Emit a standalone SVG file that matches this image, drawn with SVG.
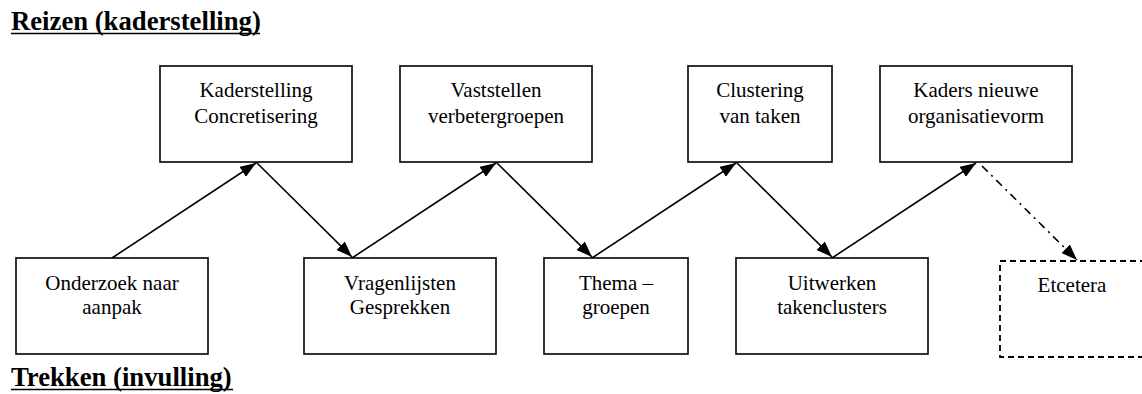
<svg xmlns="http://www.w3.org/2000/svg" width="1142" height="394" viewBox="0 0 1142 394">
  <defs>
    <style>
      .box { fill: #ffffff; stroke: #000000; stroke-width: 1.6; }
      .box-dashed { fill: #ffffff; stroke: #000000; stroke-width: 1.8; stroke-dasharray: 6 4; }
      .label { font-family: 'Liberation Serif', 'DejaVu Serif', serif; font-size: 21px; fill: #000000; text-anchor: middle; }
      .heading { font-family: 'Liberation Serif', 'DejaVu Serif', serif; font-size: 26.7px; font-weight: bold; fill: #000000; }
      .rule { stroke: #000000; stroke-width: 1.6; }
      .link { fill: none; stroke: #000000; stroke-width: 1.6; marker-end: url(#arrow); }
      .link-dashdot { fill: none; stroke: #000000; stroke-width: 1.6; stroke-dasharray: 8 5 2 5; marker-end: url(#arrow); }
    </style>
    <marker id="arrow" viewBox="0 0 16 12" refX="16" refY="6" markerWidth="16" markerHeight="12" markerUnits="userSpaceOnUse" orient="auto">
      <path d="M0,0 L16,6 L0,12 Z" fill="#000000"/>
    </marker>
  </defs>

  <rect width="1142" height="394" fill="#ffffff"/>

  <!-- section headings, underlined with plain rules -->
  <g id="heading-reizen">
    <text class="heading" x="11" y="30">Reizen (kaderstelling)</text>
    <line class="rule" x1="11" y1="33.5" x2="260" y2="33.5"/>
  </g>
  <g id="heading-trekken">
    <text class="heading" x="11" y="386">Trekken (invulling)</text>
    <line class="rule" x1="11" y1="389.5" x2="233" y2="389.5"/>
  </g>

  <!-- connectors -->
  <g id="connectors">
    <line class="link" x1="112" y1="258" x2="256" y2="163"/>
    <line class="link" x1="256" y1="162" x2="352" y2="257"/>
    <line class="link" x1="352" y1="258" x2="496" y2="163"/>
    <line class="link" x1="496" y1="162" x2="592" y2="257"/>
    <line class="link" x1="592" y1="258" x2="736" y2="163"/>
    <line class="link" x1="736" y1="162" x2="832" y2="257"/>
    <line class="link" x1="832" y1="258" x2="976" y2="163"/>
    <line class="link-dashdot" x1="982" y1="166" x2="1077" y2="260"/>
  </g>

  <!-- upper row -->
  <g id="kaderstelling">
    <rect class="box" x="160" y="66" width="192" height="96"/>
    <text class="label" x="256" y="97">Kaderstelling</text>
    <text class="label" x="256" y="123">Concretisering</text>
  </g>
  <g id="vaststellen">
    <rect class="box" x="400" y="66" width="192" height="96"/>
    <text class="label" x="496" y="97">Vaststellen</text>
    <text class="label" x="496" y="123">verbetergroepen</text>
  </g>
  <g id="clustering">
    <rect class="box" x="688" y="66" width="144" height="96"/>
    <text class="label" x="760" y="97">Clustering</text>
    <text class="label" x="760" y="123">van taken</text>
  </g>
  <g id="kaders">
    <rect class="box" x="880" y="66" width="192" height="96"/>
    <text class="label" x="976" y="97">Kaders nieuwe</text>
    <text class="label" x="976" y="123">organisatievorm</text>
  </g>

  <!-- lower row -->
  <g id="onderzoek">
    <rect class="box" x="16" y="258" width="192" height="96"/>
    <text class="label" x="112" y="290">Onderzoek naar</text>
    <text class="label" x="112" y="314">aanpak</text>
  </g>
  <g id="vragenlijsten">
    <rect class="box" x="304" y="258" width="192" height="96"/>
    <text class="label" x="400" y="290">Vragenlijsten</text>
    <text class="label" x="400" y="314">Gesprekken</text>
  </g>
  <g id="thema">
    <rect class="box" x="544" y="258" width="144" height="96"/>
    <text class="label" x="616" y="290">Thema –</text>
    <text class="label" x="616" y="314">groepen</text>
  </g>
  <g id="uitwerken">
    <rect class="box" x="736" y="258" width="192" height="96"/>
    <text class="label" x="832" y="290">Uitwerken</text>
    <text class="label" x="832" y="314">takenclusters</text>
  </g>
  <g id="etcetera">
    <rect class="box-dashed" x="1000" y="261" width="144" height="96"/>
    <text class="label" x="1072" y="292">Etcetera</text>
  </g>
</svg>
